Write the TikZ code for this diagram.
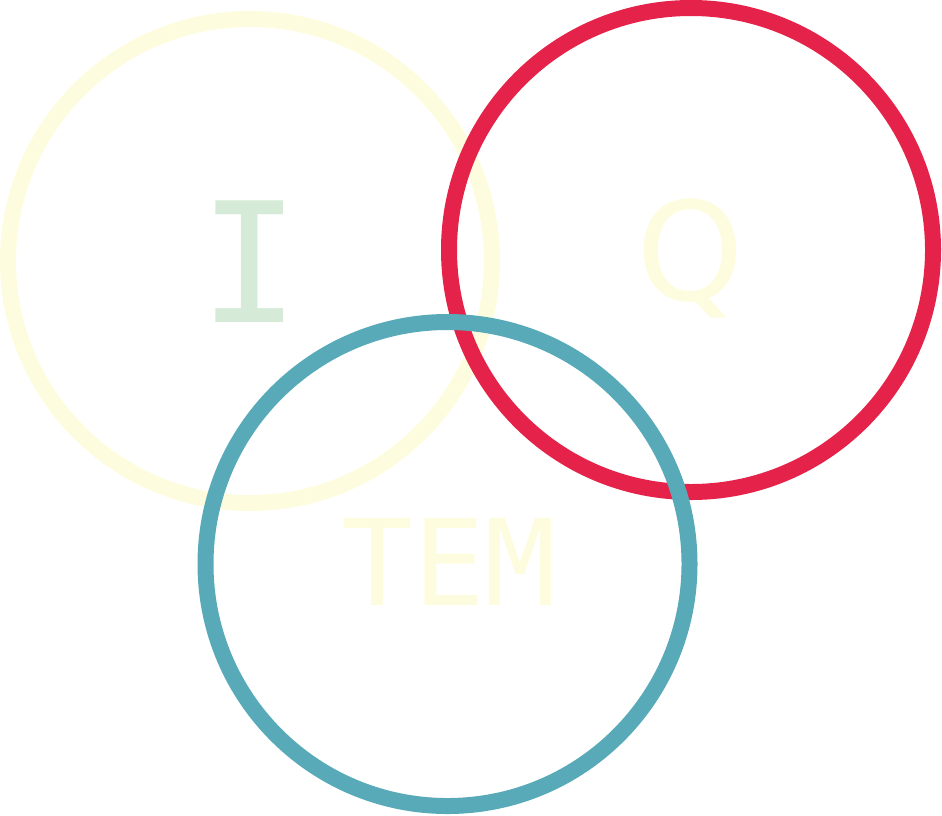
\documentclass[tikz,border=0pt]{standalone}
\usepackage{fontspec}
\setmonofont{DejaVu Sans Mono}
\setsansfont{DejaVu Sans}
\definecolor{paleyellow}{HTML}{FEFCDE}
\definecolor{iqred}{HTML}{E5234A}
\definecolor{iqteal}{HTML}{58AAB8}
\definecolor{palegreen}{HTML}{D5EAD7}
\begin{document}
\begin{tikzpicture}[x=0.02cm, y=-0.02cm, line join=round, line cap=round,
  ring/.style={line width=0.32cm},
  letter/.style={inner sep=0pt, anchor=base, font=\ttfamily}]
\useasboundingbox (0,0) rectangle (942,815);
\draw[ring, paleyellow] (250,261) circle (242*0.02cm);
\draw[ring, iqred] (691,250) circle (242*0.02cm);
\draw[ring, iqteal] (447.5,564) circle (242*0.02cm);
\node[letter, palegreen, font=\ttfamily\fontsize{95}{95}\selectfont] (lblI) at (250,322) {I};
\node[letter, paleyellow, font=\sffamily\fontsize{78}{78}\selectfont] (lblQ) at (690,300) {Q};
\node[letter, paleyellow, font=\ttfamily\fontsize{68}{68}\selectfont] (lblTEM) at (449,605) {TEM};
\end{tikzpicture}
\end{document}
